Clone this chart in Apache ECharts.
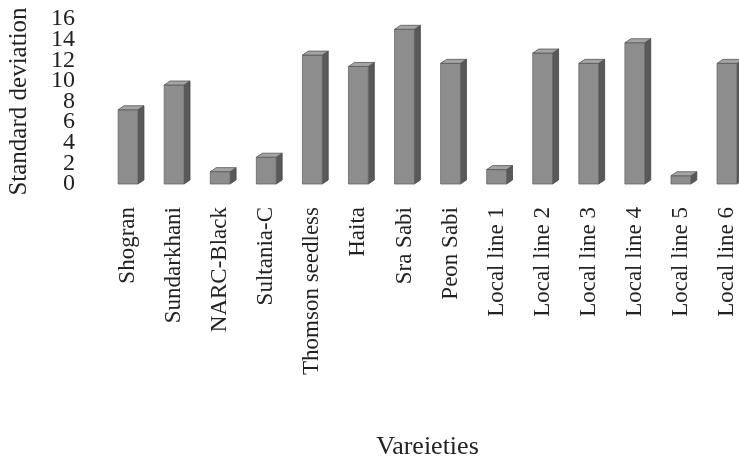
<!DOCTYPE html>
<html>
<head>
<meta charset="utf-8">
<script src="https://cdn.jsdelivr.net/npm/echarts@6/dist/echarts.min.js"></script>
<style>
  html, body { margin: 0; padding: 0; background: #fff; }
  #chart { width: 739px; height: 466px; }
</style>
</head>
<body>
<div id="chart"></div>
<script>
// 品种名称
const categories = ['Shogran', 'Sundarkhani', 'NARC-Black', 'Sultania-C', 'Thomson seedless', 'Haita',
  'Sra Sabi', 'Peon Sabi', 'Local line 1', 'Local line 2', 'Local line 3', 'Local line 4',
  'Local line 5', 'Local line 6']
// 标准差
const stdValues = [7.2, 9.6, 1.2, 2.6, 12.5, 11.4, 15.0, 11.7, 1.4, 12.7, 11.7, 13.7, 0.8, 11.7]
const yTicks = [0, 2, 4, 6, 8, 10, 12, 14, 16]

const chart = echarts.init(document.getElementById('chart'))

// 伪3D柱子：正面 + 右侧面 + 顶面
function renderBar(params, api) {
  const base = api.coord([api.value(0), 0])
  const top = api.coord([api.value(0), api.value(1)])
  const w = api.size([1, 0])[0] * 0.43
  const x0 = base[0] - w / 2
  const x1 = base[0] + w / 2
  const dx = 6
  const dy = 4
  return {
    type: 'group',
    children: [
      {
        type: 'polygon',
        shape: { points: [[x1, top[1]], [x1 + dx, top[1] - dy], [x1 + dx, base[1] - dy], [x1, base[1]]] },
        style: { fill: '#595959', stroke: '#444', lineWidth: 0.8 }
      },
      {
        type: 'rect',
        shape: { x: x0, y: top[1], width: w, height: base[1] - top[1] },
        style: { fill: '#8d8d8d', stroke: '#666', lineWidth: 0.8 }
      },
      {
        type: 'polygon',
        shape: { points: [[x0, top[1]], [x0 + dx, top[1] - dy], [x1 + dx, top[1] - dy], [x1, top[1]]] },
        style: { fill: '#a4a4a4', stroke: '#555', lineWidth: 0.8 }
      }
    ]
  }
}

// 刻度标签太挤，ECharts 会自动隐藏重叠的，所以拆成两条轴交替显示
function yAxisBase(showEven) {
  return {
    type: 'value',
    position: 'left',
    min: yTicks[0],
    max: yTicks[yTicks.length - 1],
    interval: 2,
    axisLine: { show: false },
    axisTick: { show: false },
    splitLine: { show: false },
    axisLabel: {
      margin: 30,
      showMinLabel: showEven,
      showMaxLabel: showEven,
      formatter: function (v) {
        const i = yTicks.indexOf(v)
        return (i % 2 === 0) === showEven ? String(v) : ''
      },
      fontFamily: 'Liberation Serif',
      fontSize: 24,
      color: '#222'
    }
  }
}

const yMain = yAxisBase(true)
yMain.name = 'Standard deviation'
yMain.nameLocation = 'middle'
yMain.nameGap = 73
yMain.nameTextStyle = { fontFamily: 'Liberation Serif', fontSize: 25, color: '#222' }

const option = {
  backgroundColor: '#fff',
  textStyle: { fontFamily: 'Liberation Serif' },
  grid: { left: 105, right: -11, top: 19, bottom: 282, outerBoundsMode: 'none', containLabel: false },
  xAxis: {
    type: 'category',
    data: categories,
    name: 'Vareieties',
    nameLocation: 'middle',
    nameGap: 250,
    nameTextStyle: { fontFamily: 'Liberation Serif', fontSize: 26, color: '#222' },
    axisLine: { show: false },
    axisTick: { show: false },
    axisLabel: {
      interval: 0,
      rotate: 90,
      margin: 23,
      fontFamily: 'Liberation Serif',
      fontSize: 23,
      color: '#222'
    }
  },
  yAxis: [yMain, yAxisBase(false)],
  series: [
    {
      type: 'custom',
      renderItem: renderBar,
      encode: { x: 0, y: 1 },
      data: categories.map((c, i) => [i, stdValues[i]])
    }
  ]
}
chart.setOption(option)
</script>
</body>
</html>
